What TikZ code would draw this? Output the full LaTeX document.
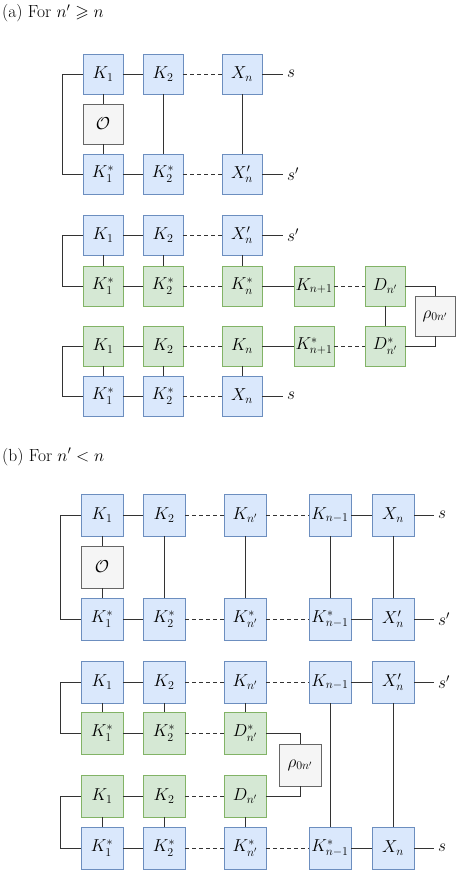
\documentclass[tikz,border=0pt]{standalone}
\usepackage{amssymb}
\definecolor{bfill}{HTML}{DAE8FC}
\definecolor{bstroke}{HTML}{6C8EBF}
\definecolor{gfill}{HTML}{D5E8D4}
\definecolor{gstroke}{HTML}{82B366}
\definecolor{ofill}{HTML}{F5F5F5}
\definecolor{ostroke}{HTML}{666666}
\definecolor{wirec}{HTML}{333333}
\begin{document}
\begin{tikzpicture}[x=1pt,y=-1pt,
  box/.style={minimum size=40pt,inner sep=0pt,line width=0.8pt,font=\fontsize{16.5}{18}\selectfont},
  bbox/.style={box,draw=bstroke,fill=bfill},
  gbox/.style={box,draw=gstroke,fill=gfill},
  obox/.style={box,draw=ostroke,fill=ofill},
  bigb/.style={minimum size=42pt},
  lab/.style={inner sep=4pt,font=\fontsize{18}{20}\selectfont,anchor=west},
  head/.style={inner sep=0pt,anchor=base west,font=\fontsize{17.5}{20}\selectfont},
  wire/.style={draw=wirec,line width=0.8pt},
  dwire/.style={wire,dash pattern=on 4pt off 3pt}]
\useasboundingbox (0,0) rectangle (459,878);

% ---------- (a) ----------
\node[head] (ha) at (2,17.5) {(a) For $n'\geqslant n$};
\node[bbox] (a11) at (103,74) {$K_1$};
\node[bbox] (a12) at (163,74) {$K_2$};
\node[bbox] (a13) at (242,74) {$X_n$};
\node[lab] (a1s) at (283,74) {$s$};
\node[obox] (aO) at (103,124) {$\mathcal{O}$};
\node[bbox] (a21) at (103,174) {$K_1^*$};
\node[bbox] (a22) at (163,174) {$K_2^*$};
\node[bbox] (a23) at (242,174) {$X_n'$};
\node[lab] (a2s) at (283,174) {$s'$};
\draw[wire] (a11) -- (a12);
\draw[dwire] (a12) -- (a13);
\draw[wire] (a13) -- (a1s);
\draw[wire] (a21) -- (a22);
\draw[dwire] (a22) -- (a23);
\draw[wire] (a23) -- (a2s);
\draw[wire] (a11) -- (aO) -- (a21);
\draw[wire] (a12) -- (a22);
\draw[wire] (a13) -- (a23);
\draw[wire] (a11.west) -- ++(-20,0) |- (a21.west);

% second diagram of (a)
\node[bbox] (p11) at (103,235) {$K_1$};
\node[bbox] (p12) at (163,235) {$K_2$};
\node[bbox] (p13) at (242,235) {$X_n'$};
\node[lab] (p1s) at (283,235) {$s'$};
\node[gbox] (p21) at (103,286) {$K_1^*$};
\node[gbox] (p22) at (163,286) {$K_2^*$};
\node[gbox] (p23) at (242,286) {$K_n^*$};
\node[gbox] (p24) at (314,286) {$K_{n+1}$};
\node[gbox] (p25) at (385,286) {$D_{n'}$};
\node[obox] (prho) at (435,316) {$\rho_{0n'}$};
\node[gbox] (p31) at (103,346) {$K_1$};
\node[gbox] (p32) at (163,346) {$K_2$};
\node[gbox] (p33) at (242,346) {$K_n$};
\node[gbox] (p34) at (314,346) {$K_{n+1}^*$};
\node[gbox] (p35) at (385,346) {$D_{n'}^*$};
\node[bbox] (p41) at (103,396) {$K_1^*$};
\node[bbox] (p42) at (163,396) {$K_2^*$};
\node[bbox] (p43) at (242,396) {$X_n$};
\node[lab] (p4s) at (283,396) {$s$};
\draw[wire] (p11) -- (p12);
\draw[dwire] (p12) -- (p13);
\draw[wire] (p13) -- (p1s);
\draw[wire] (p21) -- (p22);
\draw[dwire] (p22) -- (p23);
\draw[wire] (p23) -- (p24);
\draw[dwire] (p24) -- (p25);
\draw[wire] (p31) -- (p32);
\draw[dwire] (p32) -- (p33);
\draw[wire] (p33) -- (p34);
\draw[dwire] (p34) -- (p35);
\draw[wire] (p41) -- (p42);
\draw[dwire] (p42) -- (p43);
\draw[wire] (p43) -- (p4s);
\draw[wire] (p11) -- (p21);
\draw[wire] (p12) -- (p22);
\draw[wire] (p13) -- (p23);
\draw[wire] (p31) -- (p41);
\draw[wire] (p32) -- (p42);
\draw[wire] (p33) -- (p43);
\draw[wire] (p25) -- (p35);
\draw[wire] (p25.east) -| (prho.north);
\draw[wire] (p35.east) -| (prho.south);
\draw[wire] (p11.west) -- ++(-20,0) |- (p21.west);
\draw[wire] (p31.west) -- ++(-20,0) |- (p41.west);

% ---------- (b) ----------
\node[head] (hb) at (2,461) {(b) For $n'<n$};
\node[bbox,bigb] (b11) at (102,515) {$K_1$};
\node[bbox,bigb] (b12) at (164,515) {$K_2$};
\node[bbox,bigb] (b13) at (245,515) {$K_{n'}$};
\node[bbox,bigb] (b14) at (330,515) {$K_{n-1}$};
\node[bbox,bigb] (b15) at (393,515) {$X_n$};
\node[lab] (b1s) at (434,515) {$s$};
\node[obox,bigb] (bO) at (102,567) {$\mathcal{O}$};
\node[bbox,bigb] (b21) at (102,619) {$K_1^*$};
\node[bbox,bigb] (b22) at (164,619) {$K_2^*$};
\node[bbox,bigb] (b23) at (245,619) {$K_{n'}^*$};
\node[bbox,bigb] (b24) at (330,619) {$K_{n-1}^*$};
\node[bbox,bigb] (b25) at (393,619) {$X_n'$};
\node[lab] (b2s) at (434,619) {$s'$};
\draw[wire] (b11) -- (b12);
\draw[dwire] (b12) -- (b13);
\draw[dwire] (b13) -- (b14);
\draw[wire] (b14) -- (b15);
\draw[wire] (b15) -- (b1s);
\draw[wire] (b21) -- (b22);
\draw[dwire] (b22) -- (b23);
\draw[dwire] (b23) -- (b24);
\draw[wire] (b24) -- (b25);
\draw[wire] (b25) -- (b2s);
\draw[wire] (b11) -- (bO) -- (b21);
\draw[wire] (b12) -- (b22);
\draw[wire] (b13) -- (b23);
\draw[wire] (b14) -- (b24);
\draw[wire] (b15) -- (b25);
\draw[wire] (b11.west) -- ++(-20,0) |- (b21.west);

% second diagram of (b)
\node[bbox,bigb] (q11) at (102,682) {$K_1$};
\node[bbox,bigb] (q12) at (164,682) {$K_2$};
\node[bbox,bigb] (q13) at (245,682) {$K_{n'}$};
\node[bbox,bigb] (q14) at (330,682) {$K_{n-1}$};
\node[bbox,bigb] (q15) at (393,682) {$X_n'$};
\node[lab] (q1s) at (434,682) {$s'$};
\node[gbox,bigb] (q21) at (102,733) {$K_1^*$};
\node[gbox,bigb] (q22) at (164,733) {$K_2^*$};
\node[gbox,bigb] (q23) at (245,733) {$D_{n'}^*$};
\node[obox,bigb] (qrho) at (300,765) {$\rho_{0n'}$};
\node[gbox,bigb] (q31) at (102,796) {$K_1$};
\node[gbox,bigb] (q32) at (164,796) {$K_2$};
\node[gbox,bigb] (q33) at (245,796) {$D_{n'}$};
\node[bbox,bigb] (q41) at (102,848) {$K_1^*$};
\node[bbox,bigb] (q42) at (164,848) {$K_2^*$};
\node[bbox,bigb] (q43) at (245,848) {$K_{n'}^*$};
\node[bbox,bigb] (q44) at (330,848) {$K_{n-1}^*$};
\node[bbox,bigb] (q45) at (393,848) {$X_n$};
\node[lab] (q4s) at (434,848) {$s$};
\draw[wire] (q11) -- (q12);
\draw[dwire] (q12) -- (q13);
\draw[dwire] (q13) -- (q14);
\draw[wire] (q14) -- (q15);
\draw[wire] (q15) -- (q1s);
\draw[wire] (q21) -- (q22);
\draw[dwire] (q22) -- (q23);
\draw[wire] (q31) -- (q32);
\draw[dwire] (q32) -- (q33);
\draw[wire] (q41) -- (q42);
\draw[dwire] (q42) -- (q43);
\draw[dwire] (q43) -- (q44);
\draw[wire] (q44) -- (q45);
\draw[wire] (q45) -- (q4s);
\draw[wire] (q11) -- (q21);
\draw[wire] (q12) -- (q22);
\draw[wire] (q13) -- (q23);
\draw[wire] (q31) -- (q41);
\draw[wire] (q32) -- (q42);
\draw[wire] (q33) -- (q43);
\draw[wire] (q14) -- (q44);
\draw[wire] (q15) -- (q45);
\draw[wire] (q23.east) -| (qrho.north);
\draw[wire] (q33.east) -| (qrho.south);
\draw[wire] (q11.west) -- ++(-20,0) |- (q21.west);
\draw[wire] (q31.west) -- ++(-20,0) |- (q41.west);
\end{tikzpicture}
\end{document}
